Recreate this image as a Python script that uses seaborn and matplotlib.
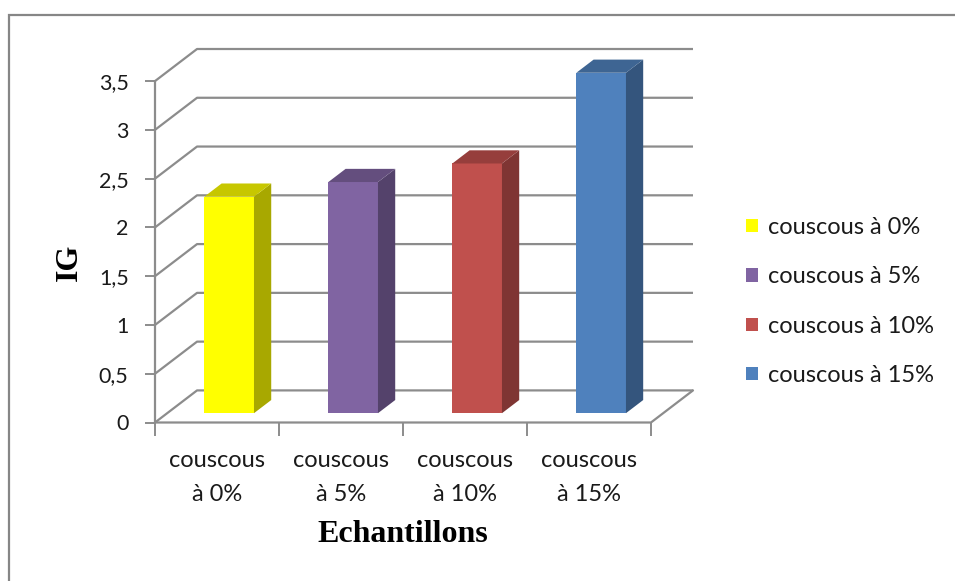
import numpy as np
import matplotlib
matplotlib.use("Agg")
import matplotlib.pyplot as plt
from matplotlib.patches import Polygon, Patch, Rectangle
from matplotlib.colors import to_rgb
import seaborn as sns

# Data
categories = ["couscous\nà 0%", "couscous\nà 5%", "couscous\nà 10%", "couscous\nà 15%"]
legend_labels = ["couscous à 0%", "couscous à 5%", "couscous à 10%", "couscous à 15%"]
ig_values = [2.22, 2.37, 2.56, 3.49]
bar_colors = ["#FFFF00", "#8064A2", "#C0504D", "#4F81BD"]
y_ticks = [0, 0.5, 1, 1.5, 2, 2.5, 3, 3.5]

sns.set_style("white")
plt.rcParams["font.family"] = ["Lato", "DejaVu Sans"]

# oblique depth of the 3D box (in data units) and where the bars sit in it
DX, DY = 0.339, 0.329
FRONT, BAR_DEPTH = 0.29, 0.41
GRID = "#8c8c8c"
TXT = "#1a1a1a"

fig = plt.figure(figsize=(9.55, 5.81), dpi=100)
fig.patch.set_facecolor("white")
ax = fig.add_axes([155 / 955, (581 - 422.5) / 581, 538 / 955, 373.5 / 581])

sns.barplot(x=list(range(len(ig_values))), y=ig_values, hue=list(range(len(ig_values))),
            palette=bar_colors, saturation=1, width=0.4, linewidth=0,
            legend=False, ax=ax, zorder=3)

ymax = y_ticks[-1]
x0, x1 = -0.5, len(ig_values) - 0.5
ax.set_xlim(x0, x1 + DX)
ax.set_ylim(0, ymax + DY)
for s in ax.spines.values():
    s.set_visible(False)

# walls: gridlines on the back wall plus the diagonals down the side wall
for v in y_ticks:
    ax.plot([x0, x0 + DX, x1 + DX], [v, v + DY, v + DY], color=GRID, lw=1.6,
            zorder=1, clip_on=False, solid_capstyle="butt")
# floor front edge and right edge, front vertical axis
ax.plot([x0, x1, x1 + DX], [0, 0, DY], color=GRID, lw=1.6, zorder=1, clip_on=False)
ax.plot([x0, x0], [0, ymax], color=GRID, lw=1.6, zorder=1, clip_on=False)


def shade(c, k):
    r, g, b = to_rgb(c)
    return (r * k, g * k, b * k)


# give each bar a depth: move the face into the box, add the side and the top
bars = sorted(ax.patches, key=lambda p: p.get_x())
for p, col in zip(bars, bar_colors):
    bx = p.get_x() + FRONT * DX
    by = FRONT * DY
    w, h = p.get_width(), p.get_height()
    p.set_x(bx)
    p.set_y(by)
    ddx, ddy = BAR_DEPTH * DX, BAR_DEPTH * DY
    side = Polygon([(bx + w, by), (bx + w + ddx, by + ddy), (bx + w + ddx, by + h + ddy),
                    (bx + w, by + h)], closed=True, facecolor=shade(col, 0.66),
                   edgecolor="none", zorder=3)
    top = Polygon([(bx, by + h), (bx + w, by + h), (bx + w + ddx, by + h + ddy),
                   (bx + ddx, by + h + ddy)], closed=True, facecolor=shade(col, 0.78),
                  edgecolor="none", zorder=3)
    ax.add_patch(side)
    ax.add_patch(top)

# y axis ticks with comma decimals
ax.set_yticks(y_ticks)
ax.set_yticklabels([f"{v:g}".replace(".", ",") for v in y_ticks])
ax.tick_params(axis="y", which="major", left=True, length=7, width=1.4, color=GRID,
               pad=12, labelsize=15.5, labelcolor=TXT)

# category labels in the middle of each slot, tick marks at the slot borders
ax.set_xticks(range(len(categories)))
ax.set_xticklabels(categories, linespacing=1.75)
ax.set_xticks(np.arange(x0, x1 + 0.01, 1.0), minor=True)
ax.tick_params(axis="x", which="major", bottom=True, length=0, pad=20,
               labelsize=17, labelcolor=TXT)
ax.tick_params(axis="x", which="minor", bottom=True, length=9, width=1.4, color=GRID)

ax.set_xlabel("")
ax.set_ylabel("")
fig.text(403 / 955, 1 - 535 / 581, "Echantillons", ha="center", va="center",
         family="Liberation Serif", fontweight="bold", fontsize=23, color="black")
fig.text(69 / 955, 1 - 262 / 581, "IG", ha="center", va="center", rotation=90,
         family="Liberation Serif", fontweight="bold", fontsize=23, color="black")

handles = [Patch(facecolor=c, edgecolor="none") for c in bar_colors]
fig.legend(handles, legend_labels, loc="center left",
           bbox_to_anchor=(746 / 955, 1 - 301.5 / 581), frameon=False,
           fontsize=17, handlelength=0.5, handleheight=0.5, handletextpad=0.45,
           labelspacing=1.2, borderpad=0, borderaxespad=0, labelcolor=TXT)

# chart frame (top and left edges run into the image border)
fig.add_artist(Rectangle((9 / 955, -0.1), 1.2, 1.1 - 15 / 581, transform=fig.transFigure,
                         fill=False, edgecolor="#868686", lw=1.6))

fig.savefig("out.png", dpi=100, facecolor="white")
